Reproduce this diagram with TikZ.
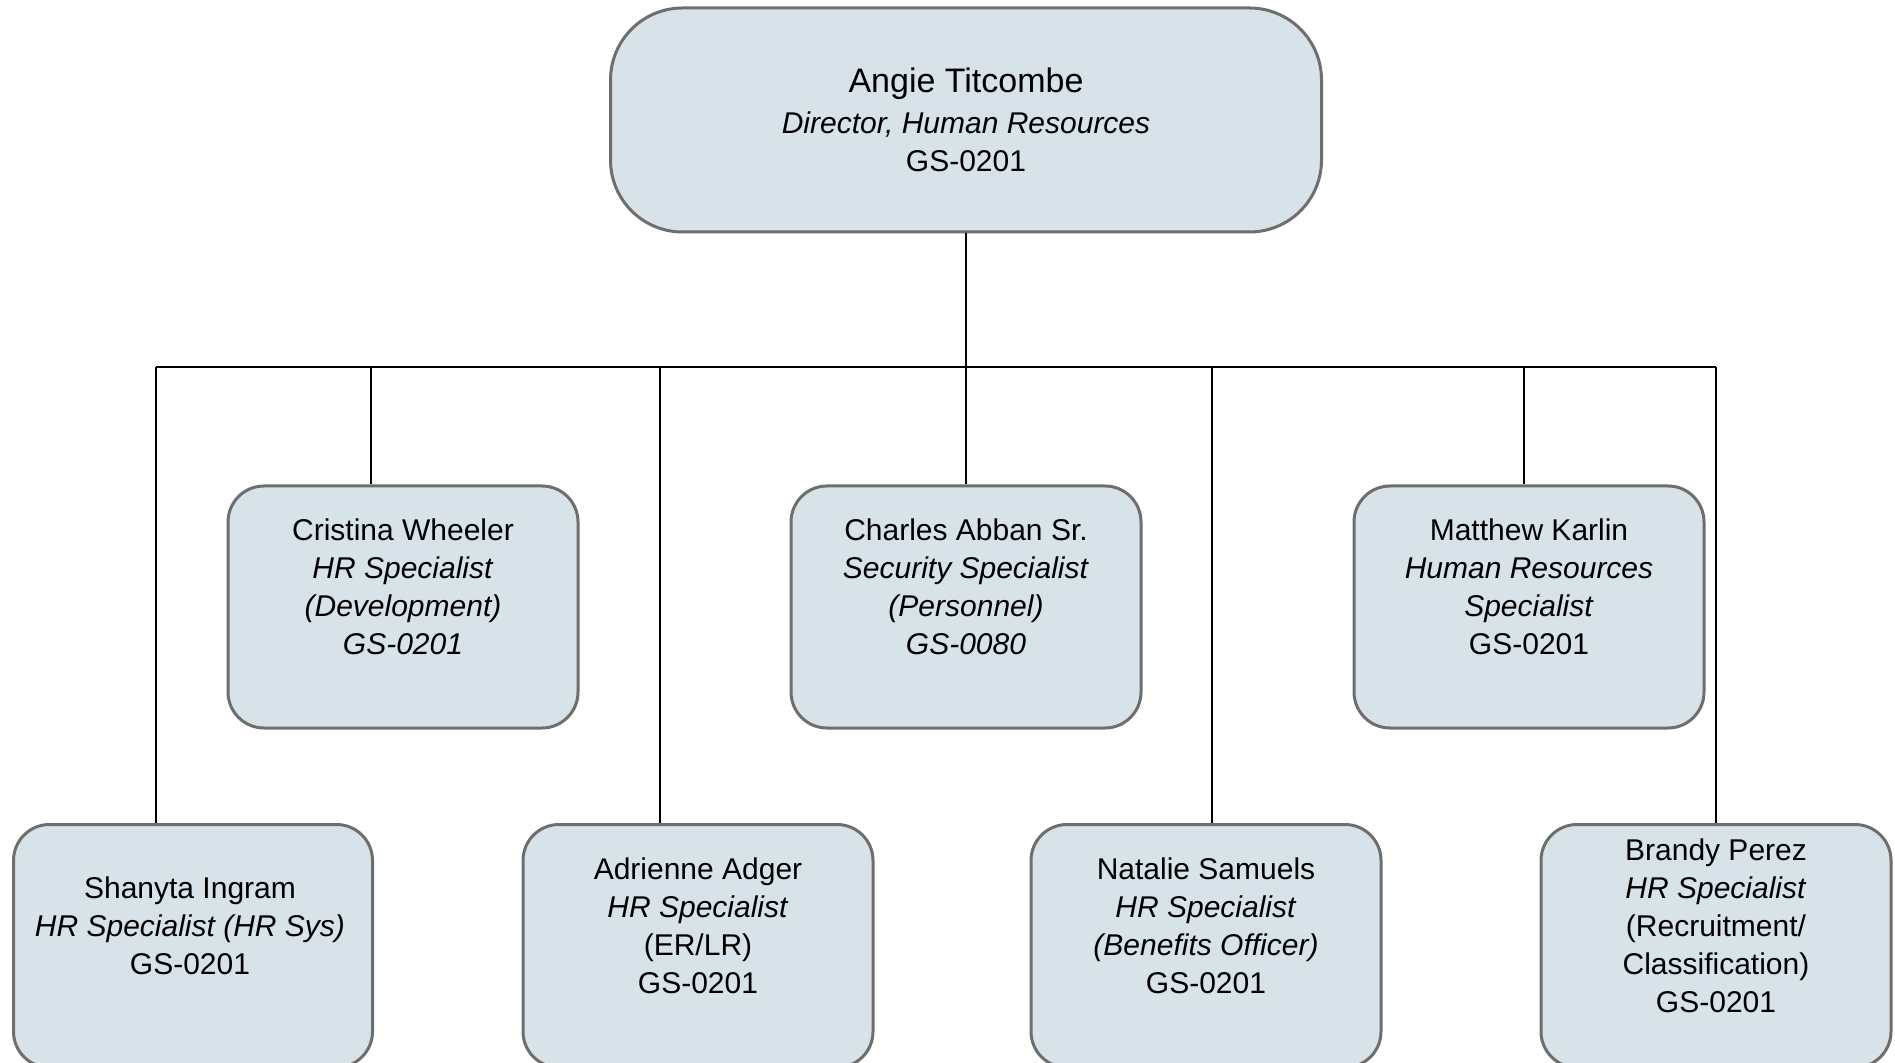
\documentclass[tikz,border=0pt]{standalone}
\usepackage{fontspec}
\setmainfont{Liberation Sans}
\definecolor{boxfill}{HTML}{D7E3E9}
\definecolor{boxline}{HTML}{6E6E6E}
\begin{document}
\begin{tikzpicture}[x=0.5pt,y=-0.5pt,
  box/.style={draw=boxline, fill=boxfill, line width=1.5pt, rounded corners=18pt, inner sep=0pt},
  topbox/.style={box, rounded corners=36pt, minimum width=355.5pt, minimum height=112pt},
  midbox/.style={box, minimum width=175pt, minimum height=121pt},
  lowbox/.style={box, minimum width=175pt, minimum height=121.5pt},
  txt/.style={align=center, inner sep=0pt, font=\fontsize{15pt}{19pt}\selectfont},
  link/.style={line width=1pt, black}]
\useasboundingbox (0,0) rectangle (1895,1063);
\clip (0,0) rectangle (1895,1063);
\fill[white] (0,0) rectangle (1895,1063);

% top
\node[topbox] (dir) at (966,120) {};
\node[txt, font=\fontsize{15pt}{20.5pt}\selectfont] (dirt) at (966,120)
  {{\fontsize{17pt}{20.5pt}\selectfont Angie Titcombe}\\\textit{Director, Human Resources}\\[-1.8pt]GS-0201};

% middle row
\node[midbox] (cw) at (403,607) {};
\node[txt] (cwt) at (403,587) {Cristina Wheeler\\\textit{HR Specialist}\\\textit{(Development)}\\\textit{GS-0201}};
\node[midbox] (ca) at (966,607) {};
\node[txt] (cat) at (966,587) {Charles Abban Sr.\\\textit{Security Specialist}\\\textit{(Personnel)}\\\textit{GS-0080}};
\node[midbox] (mk) at (1529,607) {};
\node[txt] (mkt) at (1529,587) {Matthew Karlin\\\textit{Human Resources}\\\textit{Specialist}\\GS-0201};

% bottom row
\node[lowbox, minimum width=179.5pt] (si) at (193,946) {};
\node[txt] (sit) at (190,926) {Shanyta Ingram\\\textit{HR Specialist (HR Sys)}\\GS-0201};
\node[lowbox] (aa) at (698,946) {};
\node[txt] (aat) at (698,926) {Adrienne Adger\\\textit{HR Specialist}\\(ER/LR)\\GS-0201};
\node[lowbox] (ns) at (1206,946) {};
\node[txt] (nst) at (1206,926) {Natalie Samuels\\\textit{HR Specialist}\\\textit{(Benefits Officer)}\\GS-0201};
\node[lowbox] (bp) at (1716,946) {};
\node[txt] (bpt) at (1716,926) {Brandy Perez\\\textit{HR Specialist}\\(Recruitment/\\Classification)\\GS-0201};

% bus coordinates
\coordinate (b1) at (156,367);
\coordinate (b2) at (371,367);
\coordinate (b3) at (660,367);
\coordinate (b4) at (966,367);
\coordinate (b5) at (1212,367);
\coordinate (b6) at (1524,367);
\coordinate (b7) at (1716,367);

\draw[link] (dir.south) -- (b4);
\draw[link] (b1) -- (b7);
\draw[link] (b1) -- (b1 |- si.north);
\draw[link] (b2) -- (b2 |- cw.north);
\draw[link] (b3) -- (b3 |- aa.north);
\draw[link] (b4) -- (ca.north);
\draw[link] (b5) -- (b5 |- ns.north);
\draw[link] (b6) -- (b6 |- mk.north);
\draw[link] (b7) -- (bp.north);
\end{tikzpicture}
\end{document}
